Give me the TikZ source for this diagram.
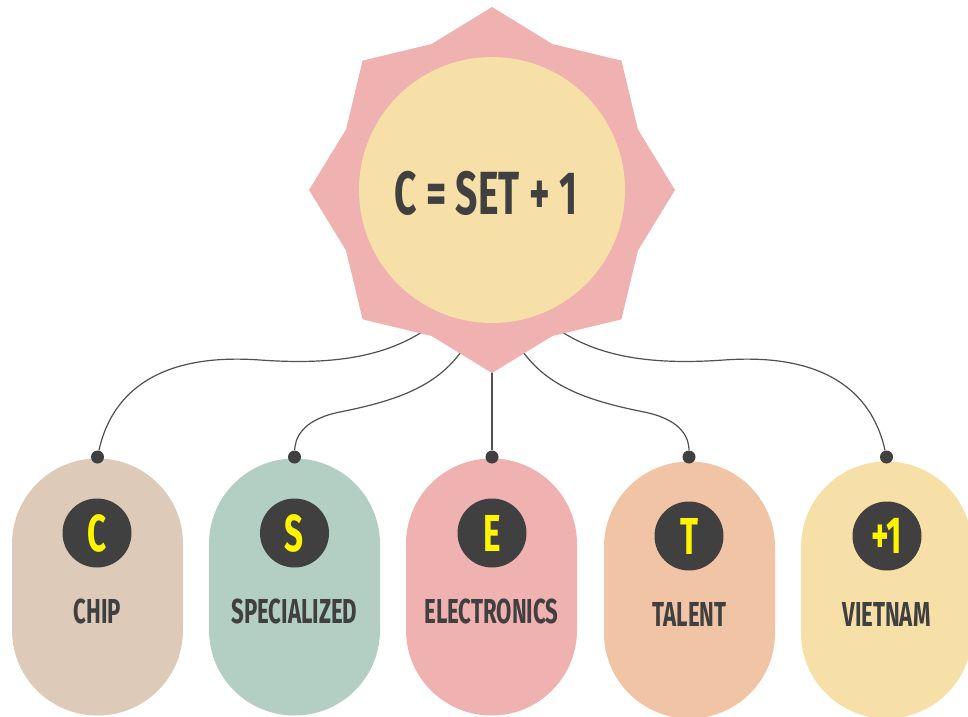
\documentclass[tikz,border=0pt]{standalone}
\usepackage{fontspec}
\newfontfamily\condfont[FakeStretch=0.64]{Fira Sans}
\definecolor{ink}{HTML}{404040}
\definecolor{linkgray}{HTML}{505050}
\definecolor{yel}{HTML}{FFF500}
\definecolor{starpink}{HTML}{F0B1B1}
\definecolor{sun}{HTML}{F7E0A8}
\definecolor{pchip}{HTML}{DDCAB8}
\definecolor{pspec}{HTML}{B3CFC4}
\definecolor{pelec}{HTML}{F0B1B1}
\definecolor{ptal}{HTML}{F1C4A6}
\definecolor{pviet}{HTML}{F7E0A8}
\begin{document}
\begin{tikzpicture}[x=0.75pt,y=-0.75pt,
  pill/.style={rounded corners=64pt, minimum width=128.25pt, minimum height=192.75pt, inner sep=0pt},
  badge/.style={circle, fill=ink, minimum size=51.75pt, inner sep=0pt, text=yel, font=\condfont\bfseries\fontsize{39}{39}\selectfont},
  lbl/.style={text=ink, font=\condfont\bfseries\fontsize{26}{26}\selectfont, inner sep=0pt},
  joint/.style={circle, fill=ink, minimum size=9.75pt, inner sep=0pt},
  link/.style={draw=linkgray, line width=0.9pt}]
\useasboundingbox (0,0) rectangle (968,717);
% pills
\node[pill, fill=pchip] (pC) at (97.5,587) {};
\node[pill, fill=pspec] (pS) at (294.5,587) {};
\node[pill, fill=pelec] (pE) at (491.5,587) {};
\node[pill, fill=ptal] (pT) at (689.5,590) {};
\node[pill, fill=pviet] (pV) at (886.5,590) {};
% badges
\node[badge] (bC) at (97,533) {C};
\node[badge] (bS) at (294.5,533) {S};
\node[badge] (bE) at (492,533) {E};
\node[badge] (bT) at (689,536) {T};
\node[badge] (bV) at (887,536) {+1};
% labels
\node[lbl] (lC) at (97.5,611) {CHIP};
\node[lbl] (lS) at (294.5,611) {SPECIALIZED};
\node[lbl] (lE) at (491.5,611) {ELECTRONICS};
\node[lbl] (lT) at (689.5,614) {TALENT};
\node[lbl] (lV) at (886.5,614) {VIETNAM};
% joints
\node[joint] (dC) at (97.5,457) {};
\node[joint] (dS) at (294.5,457) {};
\node[joint] (dE) at (492,457) {};
\node[joint] (dT) at (689,457) {};
\node[joint] (dV) at (886.5,457) {};
% connector starts on the star
\coordinate (sC) at (428,328);
\coordinate (sS) at (465,346);
\coordinate (sE) at (492,360);
\coordinate (sT) at (519,346);
\coordinate (sV) at (556,328);
% connectors
\draw[link] (sC) .. controls (385,358) and (330,365) .. (260,360) .. controls (150,352) and (110,400) .. (dC);
\draw[link] (sS) .. controls (440,385) and (400,400) .. (340,412) .. controls (300,420) and (295,440) .. (dS);
\draw[link] (sE) -- (dE);
\draw[link] (sT) .. controls (544,385) and (584,400) .. (644,412) .. controls (684,420) and (689,440) .. (dT);
\draw[link] (sV) .. controls (599,358) and (654,365) .. (724,360) .. controls (834,352) and (874,400) .. (dV);
% star
\fill[starpink, shift={(492,190)}] (0:183) \foreach \i in {1,...,15}{ -- ({22.5*\i}:{170.5+12.5*cos(180*\i)}) } -- cycle;
\node[circle, fill=sun, minimum size=199.5pt, inner sep=0pt] (core) at (492,190) {};
\node[text=ink, font=\condfont\bfseries\fontsize{45.7}{46}\selectfont, inner sep=0pt] (title) at (486,193) {C = SET + 1};
\end{tikzpicture}
\end{document}
